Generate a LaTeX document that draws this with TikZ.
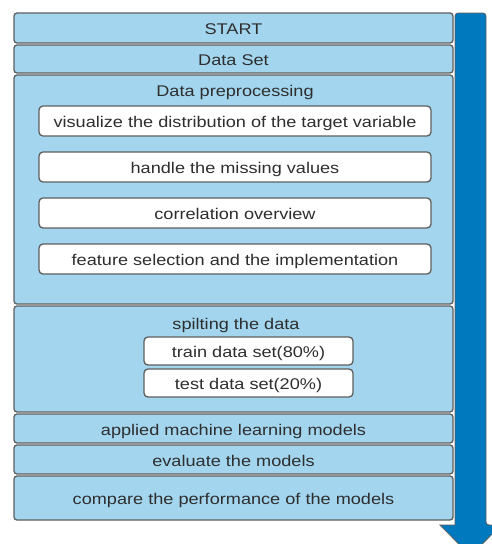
\documentclass[tikz,border=0pt]{standalone}
\usepackage{fontspec}
\setmainfont{Liberation Sans}[FakeStretch=1.17]
\usetikzlibrary{positioning}
\definecolor{stageblue}{HTML}{A3D6EE}
\definecolor{arrowblue}{HTML}{0079BE}
\definecolor{edgegray}{HTML}{5E5E5E}
\definecolor{textgray}{HTML}{2E2E2E}
\tikzset{
  stage/.style={draw=edgegray, fill=stageblue, line width=1.3pt, rounded corners=3pt,
    inner sep=0pt, minimum width=439pt, text=textgray, text height=13pt, text depth=0pt,
    font=\fontsize{15.5}{18}\selectfont},
  task/.style={draw=edgegray, fill=white, line width=1.3pt, rounded corners=4pt,
    inner sep=0pt, minimum height=30pt, text=textgray, text height=13pt, text depth=0pt,
    font=\fontsize{15.5}{18}\selectfont},
  heading/.style={inner sep=0pt, text=textgray, text height=13pt, text depth=0pt,
    font=\fontsize{15.5}{18}\selectfont}
}
\begin{document}
\begin{tikzpicture}[x=1pt,y=-1pt]
\useasboundingbox (0,0) rectangle (492,544);
\clip (0,0) rectangle (492,544);

% Pfeil
\filldraw[fill=arrowblue, draw=edgegray, line width=0.8pt, rounded corners=3pt]
  (455,525) -- (455,13) -- (486,13) -- (486,525) [sharp corners] -- (501,525)
  -- (470.5,556) -- (440,525) -- cycle;

% Stufen
\node[stage, minimum height=30pt] (start) at (233.5,28) {START};
\node[stage, minimum height=28pt] (dataset) at (233.5,59) {Data Set};
\node[stage, minimum height=229pt] (prep) at (233.5,189.5) {};
\node[stage, minimum height=106pt] (split) at (233.5,359) {};
\node[stage, minimum height=29pt] (applied) at (233.5,428.5) {applied machine learning models};
\node[stage, minimum height=29pt] (evaluate) at (233.5,459.5) {evaluate the models};
\node[stage, minimum height=44pt] (compare) at (233.5,498) {compare the performance of the models};

% Vorverarbeitung
\node[heading] (preptitle) at (235,90) {Data preprocessing};
\node[task, minimum width=392pt] (visualize) at (235,121) {visualize the distribution of the target variable};
\node[task, minimum width=392pt] (missing) at (235,167) {handle the missing values};
\node[task, minimum width=392pt] (correlation) at (235,213) {correlation overview};
\node[task, minimum width=392pt] (feature) at (235,259) {feature selection and the implementation};

% Aufteilung
\node[heading] (splittitle) at (236,322.5) {spilting the data};
\node[task, minimum width=209pt, minimum height=28pt] (train) at (248.5,351) {train data set(80\%)};
\node[task, minimum width=209pt, minimum height=28pt] (test) at (248.5,383) {test data set(20\%)};

\end{tikzpicture}
\end{document}
